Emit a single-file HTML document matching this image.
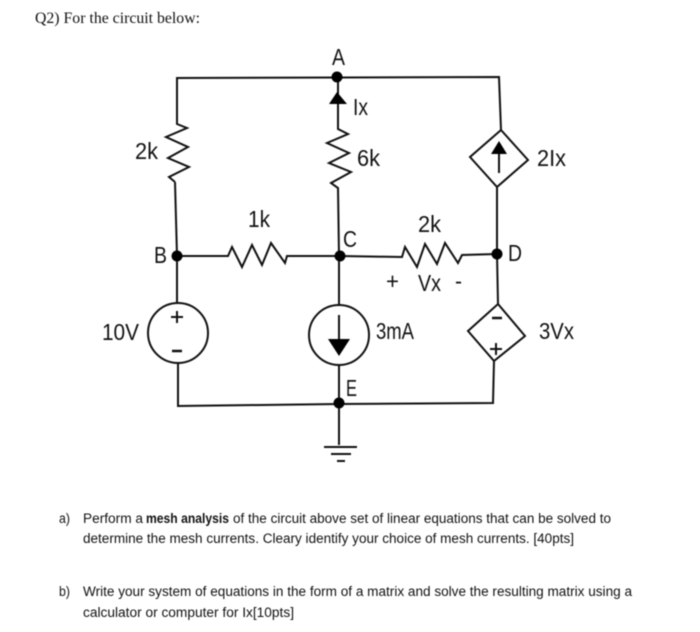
<!DOCTYPE html>
<html><head><meta charset="utf-8"><style>
html,body{margin:0;padding:0;background:#fff}
svg{display:block}
#c{filter:blur(0.4px)}
.l{font-family:"Liberation Sans",sans-serif;font-size:23px;fill:#111}
.t{font-family:"Liberation Sans",sans-serif;font-size:13.4px;fill:#111}
.w{fill:none;stroke:#111;stroke-width:2;stroke-linejoin:miter}
.f{fill:#000}
</style></head><body>
<svg width="700" height="632" viewBox="0 0 700 632" xmlns="http://www.w3.org/2000/svg">
<rect width="700" height="632" fill="#fff"/>
<g id="c">
<text x="35" y="23" font-family="'Liberation Serif',serif" font-size="16" fill="#111" textLength="165" lengthAdjust="spacingAndGlyphs">Q2) For the circuit below:</text>

<path class="w" d="M175 182L169 177L189 167L168 158L188 147L166 137L187 128L177 124L177 78L499 77L501 130"/>
<path class="w" d="M175 182L177 256L177 303"/>
<path class="w" d="M177 256L228 256L232 247L242 267L252 245L262 265L271 243L285 263L287 256L340 256L402 257L405 247L417 267L425 244L437 264L445 243L458 263L462 255L497 254"/>
<path class="w" d="M338 77L338 129L348 134L327 143L349 153L329 163L351 172L331 183L338 188L339 256L339 305"/>
<path class="w" d="M501 130L528 160L497 187L470 157Z"/>
<path class="w" d="M497 187L497 254L498 304"/>
<path class="w" d="M498 304L525 336L494 361L468 331Z"/>
<path class="w" d="M178 363L178 406L339 404L493 403L494 361"/>
<path class="w" d="M339 365L339 445"/>
<circle class="w" cx="178" cy="333" r="30"/>
<circle class="w" cx="339" cy="335" r="30"/>
<path class="w" d="M499 173L499 150"/>
<path class="w" d="M339 315L339 342"/>
<path class="f" d="M337 92L329 104L347 104Z"/>
<path class="f" d="M499 141L491 154L507 154Z"/>
<path class="f" d="M328 339L350 339L339 356Z"/>
<circle class="f" cx="337" cy="77" r="5.5"/>
<circle class="f" cx="177" cy="256" r="5.5"/>
<circle class="f" cx="340" cy="256" r="5.5"/>
<circle class="f" cx="497" cy="254" r="5.5"/>
<circle class="f" cx="339" cy="403" r="5.5"/>
<path class="w" d="M324 447L357 447M331 454L351 454M337 461L345 461"/>
<path class="w" d="M171 317L183 317M177 311L177 323"/>
<path d="M172 351L182 351M492 318L502 318" stroke="#111" stroke-width="2.6"/>
<path class="w" d="M490 349L502 349M496 343L496 355"/>

<text class="l" x="332" y="65" textLength="13" lengthAdjust="spacingAndGlyphs">A</text>
<text class="l" x="353" y="115" textLength="15" lengthAdjust="spacingAndGlyphs">Ix</text>
<text class="l" x="135" y="159" textLength="23" lengthAdjust="spacingAndGlyphs">2k</text>
<text class="l" x="357" y="166" textLength="23" lengthAdjust="spacingAndGlyphs">6k</text>
<text class="l" x="248" y="227" textLength="22" lengthAdjust="spacingAndGlyphs">1k</text>
<text class="l" x="154" y="263" textLength="13" lengthAdjust="spacingAndGlyphs">B</text>
<text class="l" x="343" y="247" textLength="14" lengthAdjust="spacingAndGlyphs">C</text>
<text class="l" x="418" y="232" textLength="23" lengthAdjust="spacingAndGlyphs">2k</text>
<text class="l" x="508" y="261" textLength="14" lengthAdjust="spacingAndGlyphs">D</text>
<text class="l" x="537" y="166" textLength="29" lengthAdjust="spacingAndGlyphs">2Ix</text>
<text class="l" x="386" y="289" textLength="13" lengthAdjust="spacingAndGlyphs">+</text>
<text class="l" x="418" y="291" textLength="23" lengthAdjust="spacingAndGlyphs">Vx</text>
<text class="l" x="455" y="289" textLength="7" lengthAdjust="spacingAndGlyphs">-</text>
<text class="l" x="102" y="340" textLength="37" lengthAdjust="spacingAndGlyphs">10V</text>
<text class="l" x="346" y="396" textLength="11" lengthAdjust="spacingAndGlyphs">E</text>
<text class="l" x="376" y="339" textLength="38" lengthAdjust="spacingAndGlyphs">3mA</text>
<text class="l" x="539" y="339" textLength="35" lengthAdjust="spacingAndGlyphs">3Vx</text>

<text class="t" x="59" y="523" textLength="11" lengthAdjust="spacingAndGlyphs">a)</text>
<text class="t" x="83" y="523" textLength="60" lengthAdjust="spacingAndGlyphs">Perform a</text>
<text class="t" x="146" y="523" font-weight="bold" textLength="83" lengthAdjust="spacingAndGlyphs">mesh analysis</text>
<text class="t" x="233" y="523" textLength="378" lengthAdjust="spacingAndGlyphs">of the circuit above set of linear equations that can be solved to</text>
<text class="t" x="83" y="543" textLength="491" lengthAdjust="spacingAndGlyphs">determine the mesh currents. Cleary identify your choice of mesh currents. [40pts]</text>
<text class="t" x="59" y="596" textLength="11" lengthAdjust="spacingAndGlyphs">b)</text>
<text class="t" x="83" y="596" textLength="549" lengthAdjust="spacingAndGlyphs">Write your system of equations in the form of a matrix and solve the resulting matrix using a</text>
<text class="t" x="83" y="617" textLength="211" lengthAdjust="spacingAndGlyphs">calculator or computer for Ix[10pts]</text>
</g>
</svg>
</body></html>
